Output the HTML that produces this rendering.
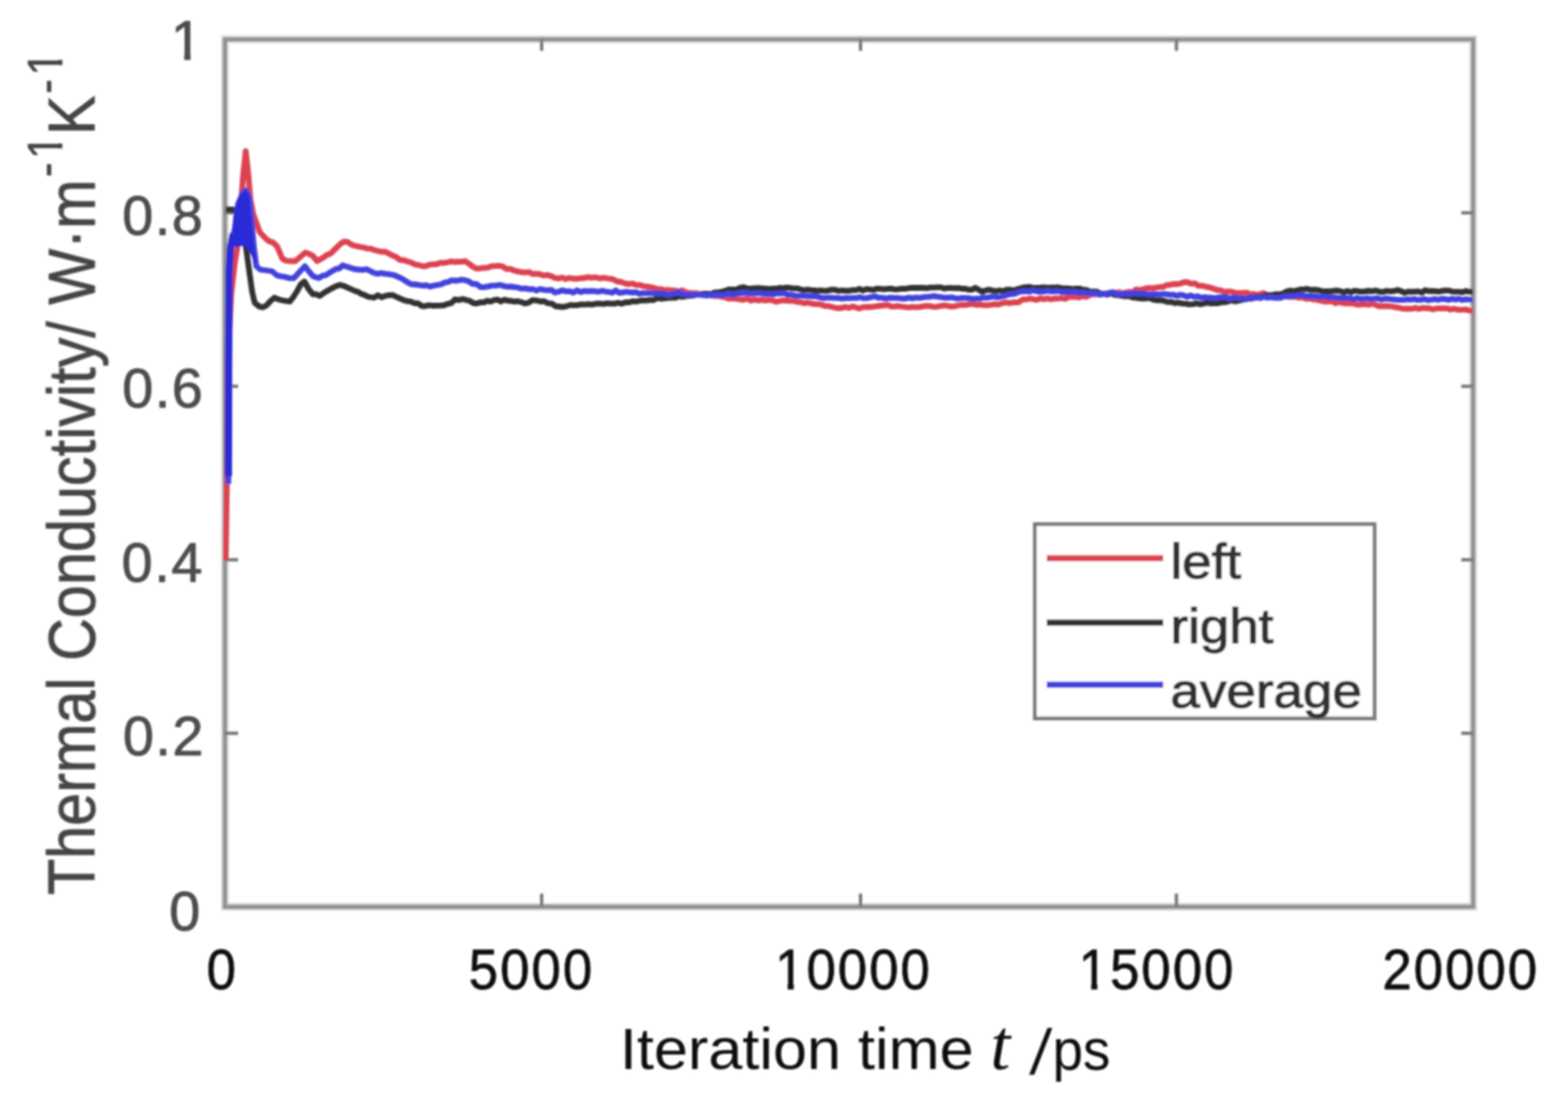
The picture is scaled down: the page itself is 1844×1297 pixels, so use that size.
<!DOCTYPE html>
<html><head><meta charset="utf-8"><title>Thermal Conductivity vs Iteration time</title>
<style>html,body{margin:0;padding:0;background:#fff;overflow:hidden}svg{display:block}</style></head>
<body><svg width="1844" height="1297" viewBox="0 0 1844 1297">
<defs><filter id="b" x="-2%" y="-2%" width="104%" height="104%"><feGaussianBlur stdDeviation="1.0"/></filter>
<clipPath id="c1"><rect x="-1000" y="-1000" width="3000" height="990.5"/><rect x="-1000" y="-9.6" width="1004.00" height="60"/><rect x="23.80" y="-9.6" width="11.4" height="60"/><rect x="54.00" y="-9.6" width="3000" height="60"/></clipPath>
<clipPath id="c2"><rect x="-1000" y="-1000" width="3000" height="990.5"/><rect x="-1000" y="-9.6" width="1045.00" height="60"/><rect x="64.80" y="-9.6" width="11.4" height="60"/><rect x="95.00" y="-9.6" width="3000" height="60"/></clipPath>
</defs>
<rect x="0" y="0" width="1844" height="1297" fill="#fff"/>
<g filter="url(#b)">
<rect x="264.5" y="46.3" width="1468.0" height="1020.0" fill="none" stroke="#e0e0e0" stroke-width="9.5"/>
<rect x="264.5" y="46.3" width="1468.0" height="1020.0" fill="none" stroke="#939393" stroke-width="5.3"/>
<path d="M264.5,862.3h15.5M1732.5,862.3h-14M264.5,658.3h15.5M1732.5,658.3h-14M264.5,454.3h15.5M1732.5,454.3h-14M264.5,250.3h15.5M1732.5,250.3h-14M637,1066.3v-15.5M637,46.3v13.5M1012,1066.3v-15.5M1012,46.3v13.5M1383.5,1066.3v-15.5M1383.5,46.3v13.5" stroke="#7a7a7a" stroke-width="4" fill="none"/>
<polyline points="265.5,659 266.3,600 266.8,569 268,420 272,345 276,310 280,285 283,245 286,205 289,177.7 292,205 294.5,235 297.8,252 305.5,273 313,281 317,283.9 321,285 326,290 332,304 336,306.5 340,307 347.5,307 353.2,302 359,297 363.5,298.5 368,301 373,307 380,303 384.5,299.7 389,298 393,294 397,290 401,286.3 405,284 409,284.7 413,287.5 417,289 422.5,290.1 428,291 432,292.4 436,292.4 440,294 444.2,295 448.5,296 452.8,295.9 457,298 461.5,300.4 466,302.2 470.5,305.7 475,306 479.4,307.5 483.8,308.7 488.2,311.1 492.6,311.7 497,313 501.2,312.8 505.4,311.1 509.6,310.8 513.8,310.5 518,309 522.1,309.2 526.3,308.5 530.4,307.4 534.6,308.2 538.7,307.6 542.9,307.8 547,307 551.7,310.2 556.3,313.8 561,316 565.3,315.4 569.7,315 574,314.7 578.3,312.9 582.7,312.8 587,312.5 591.3,313.4 595.7,316.4 600,316.2 604.3,318 608.7,319.2 613,320 617.5,320.3 622,319.9 626.5,322.2 631,322 635.2,322.5 639.5,324 643.8,323.3 648,324.7 652.2,326.6 656.5,327.5 660.8,326.3 665,328 669.4,326.8 673.8,327.5 678.1,327.8 682.5,327.1 686.9,327 691.2,325.8 695.6,326.7 700,326 705,327.3 710,326.7 715,327.5 720.5,328.2 726,331 730.7,331.5 735.3,333.5 740,334 744,333.4 748,335.1 752,335.1 756,336.3 760,337 764.3,337.5 768.6,338.3 772.9,340 777.1,339.9 781.4,341.1 785.7,340.8 790,341.5 794.2,341.7 798.3,342.9 802.5,341.3 806.7,343.8 810.8,344.5 815,345 819.2,344.6 823.3,346.3 827.5,346.1 831.7,345.3 835.8,347.4 840,348 844.3,347.9 848.6,348.8 852.9,349.6 857.1,351.2 861.4,350.9 865.7,351.4 870,352 874.3,352.5 878.6,351.1 882.9,353.5 887.1,352 891.4,353.3 895.7,352.4 900,353.4 904.2,352.7 908.3,353.2 912.5,354.8 916.7,354 920.8,353.1 925,353.5 929.1,353.8 933.2,353.7 937.4,355.1 941.5,355.2 945.6,356.6 949.8,355.7 953.9,356.9 958,357.7 962,357.6 966,358.3 970,359.8 974,359.9 978,360.8 982,361.8 986,362.3 990,362 994.1,360.9 998.2,362.1 1002.4,360.4 1006.5,361.5 1010.6,362.7 1014.8,361.1 1018.9,360.9 1023,361 1027.2,360.6 1031.5,360 1035.8,359.5 1040,359 1044,358.7 1048,360.3 1052,360.4 1056,359.9 1060,360.5 1064,361 1068,361.5 1072,361 1076.2,361.1 1080.5,361.2 1084.7,360.4 1088.9,359.6 1093.2,359.9 1097.4,360.8 1101.6,360.6 1105.8,359.9 1110.1,359.2 1114.3,359.7 1118.5,360.5 1122.8,360.1 1127,359 1131.3,358.4 1135.6,358.7 1139.9,357.6 1144.2,357.7 1148.5,358.5 1152.8,358.2 1157.1,358.8 1161.4,358.8 1165.7,358.4 1170,357.7 1174.4,358.2 1178.8,356.4 1183.2,355.6 1187.6,356.3 1192,355.5 1197.5,355.6 1203,352 1207.1,352.1 1211.2,351 1215.3,351.8 1219.4,352.6 1223.6,350.7 1227.7,351.9 1231.8,350.8 1235.9,352 1240,351 1244.2,351.2 1248.3,350.5 1252.5,351.4 1256.7,349.4 1260.8,348.9 1265,349 1269.2,349.8 1273.3,347.4 1277.5,349 1281.7,347 1285.8,345.8 1290,346 1294.3,345.9 1298.6,345.8 1302.9,345.7 1307.1,345.3 1311.4,346 1315.7,343.5 1320,345 1324,343.8 1328,343.2 1332,343.9 1336,340.4 1340,341 1344,340.2 1348,339 1352,338.7 1356,339 1360,338 1364,337.5 1368,337.4 1372,335.2 1376,335 1380,334 1384,334.2 1388,333.5 1392,332 1396,331.7 1400.5,333.6 1405,333.2 1409.5,336.2 1414,336 1418.4,337.2 1422.8,338.1 1427.2,339.5 1431.6,341 1436,341.5 1440.4,343.4 1444.8,342.7 1449.2,343.2 1453.6,344.5 1458,344.7 1462,344.4 1466,344.1 1470,346.1 1474,345.6 1478,346.9 1482,345.7 1486,344.7 1490,347 1494.3,347.5 1498.6,347.7 1502.9,349 1507.1,348.5 1511.4,348.6 1515.7,349.1 1520,349 1524,349.2 1528,350.1 1532,349.6 1536,351.4 1540,350.9 1544,352 1548.5,352.3 1553,353.7 1557.5,354.5 1562,354.5 1566.3,354.1 1570.6,356.5 1574.9,355 1579.2,356.4 1583.5,356.8 1587.8,356.6 1592.1,356.9 1596.4,358.3 1600.7,358 1605,357.7 1609.2,358.4 1613.3,357.2 1617.5,358.3 1621.7,360 1625.8,359.8 1630,360 1634.5,360 1639,360.8 1643.5,361.7 1648,362.5 1652.1,363 1656.2,362.8 1660.4,363.2 1664.5,361.9 1668.6,363.2 1672.8,362.1 1676.9,362.3 1681,362.5 1685.1,363.8 1689.3,362.7 1693.4,362.6 1697.6,362.6 1701.7,362.6 1705.9,364 1710,363 1714.7,364.3 1719.3,364.2 1724,364 1728,365.1 1732,366" fill="none" stroke="#dc4250" stroke-width="6.8" stroke-linejoin="round"/>
<polyline points="265.5,246 278,247 284,262 288,281 293,318 296.5,343 299.5,356 305,360.5 309.2,361.4 313.5,359 318.1,354 322.8,350 326.9,351.8 331,353 336,353.9 341,354.5 345,349.3 349,343 354,334 358,331 363,340 368,346 372,346 376,348 380.5,344.7 385,342 390,339.1 395,336.6 400,335 404.2,336.2 408.5,338.1 412.8,340 417,342 421,343.1 425,345.8 429,346.9 433,349 440,350 444.4,347.2 448.8,349.6 453.2,347.9 457.6,347.1 462,347 466.3,349.2 470.7,351.2 475,353 479.2,354.2 483.3,354.7 487.5,356.6 491.7,356.6 495.8,359.8 500,360 504.4,358.9 508.8,359.5 513.2,359.4 517.6,359.4 522,359 526.4,357.3 530.8,356.4 535.2,352 539.6,352.9 544,351.6 548.2,352.7 552.5,353.8 556.8,356.5 561,356.8 565,355.5 569,355.6 573,353.6 577,354.7 581,352.8 585,352.3 589,354.5 593,352.4 597,353.5 601,353.8 605,354.6 609,354.2 613,355.2 617,356.8 621.7,355.8 626.3,352.9 631,353.3 635.4,354.5 639.9,354.2 644.3,356.6 648.7,356.8 653.1,360 657.6,360.5 662,361 666.3,360.1 670.6,358.6 674.9,358.9 679.1,358.9 683.4,357.8 687.7,358.2 692,357.6 696.3,358.1 700.7,357.2 705,356.8 709.3,357.5 713.7,356.6 718,356.8 722.4,357.1 726.8,356 731.2,357.1 735.6,355.5 740,355.5 744,354.2 748,354.6 752,353.7 756,353.1 760,353.4 764.3,352.7 768.6,352.9 772.9,350.3 777.1,351.3 781.4,350.8 785.7,350.3 790,350 794.2,350.1 798.3,348.1 802.5,349.1 806.7,348.1 810.8,347.9 815,347.5 819.2,346.7 823.3,346 827.5,345.3 831.7,345.4 835.8,346 840,344 844.3,343.9 848.6,343 852.9,342 857.1,340.4 861.4,340.4 865.7,340.7 870,338.5 874.4,337.6 878.8,339.1 883.2,339.3 887.6,338.8 892,338.7 896.1,339.1 900.2,339.5 904.4,340 908.5,339.3 912.6,339.5 916.8,338.5 920.9,338.8 925,338.2 929.1,338.7 933.2,339.2 937.4,339.1 941.5,340.3 945.6,341.2 949.8,340.5 953.9,341.2 958,341.5 962,341.9 966,341.5 970,342.1 974,341.6 978,340.6 982,340.7 986,342 990,341.5 994.1,341.8 998.2,342 1002.4,341.2 1006.5,341.1 1010.6,339.7 1014.8,341.6 1018.9,339.9 1023,340.4 1027.1,341 1031.2,339.4 1035.3,339.6 1039.4,340.1 1043.6,339.6 1047.7,339.3 1051.8,340.3 1055.9,340.1 1060,339.5 1064.2,339.6 1068.5,338.9 1072.8,338.4 1077,338.5 1081.2,338.3 1085.5,338.5 1089.8,338.9 1094,338.2 1098.1,338.1 1102.2,337.8 1106.4,337.9 1110.5,339.3 1114.6,338.6 1118.8,338.7 1122.9,338.8 1127,338.7 1131,339.5 1135,339.5 1139,340.6 1143,340.7 1147,338.4 1151,340.7 1155,343.2 1159,341.5 1163.1,340.6 1167.2,341.6 1171.4,342.3 1175.5,341.5 1179.6,342.4 1183.8,340.6 1187.9,340.6 1192,341.5 1197.5,339.7 1203,338.2 1207.1,337.7 1211.2,337.4 1215.3,338.6 1219.4,338.4 1223.6,338.2 1227.7,337.9 1231.8,338.4 1235.9,338.1 1240,338.2 1244.2,337.9 1248.3,339 1252.5,339.1 1256.7,339.1 1260.8,339.8 1265,339.5 1269.2,339.3 1273.3,340.6 1277.5,340.9 1281.7,342.8 1285.8,342.8 1290,343 1294.3,345.2 1298.6,345.5 1302.9,344.9 1307.1,345.1 1311.4,346.9 1315.7,347.1 1320,348 1324,348.4 1328,348.3 1332,349.9 1336,350.1 1340,350.8 1344,351.2 1348,350.9 1352,350.4 1356,352.3 1360,353 1364.3,353 1368.6,353.6 1372.9,355.1 1377.2,354.8 1381.5,356.4 1385.8,355.9 1390.1,356.8 1394.4,357.1 1398.7,357.8 1403,357.7 1407.1,356.5 1411.2,357.9 1415.4,357 1419.5,355.9 1423.6,356.8 1427.8,356.3 1431.9,356.7 1436,355.5 1440,355.4 1444,354.6 1448,352.7 1452,354.4 1456,353.7 1460,352.7 1464,351.9 1468,351 1472.1,351.2 1476.2,349.1 1480.4,349.5 1484.5,348.4 1488.6,347 1492.8,347.4 1496.9,346.7 1501,345.8 1505,346.3 1509,345.1 1513,342.7 1517,341.7 1521,342.4 1525,341.6 1529,340.4 1533,340.4 1537.5,339.7 1542,341 1546.5,340.6 1551,341.3 1555.5,342.8 1560,342.5 1564.1,342.7 1568.2,342 1572.3,341.7 1576.4,342.4 1580.5,343.7 1584.5,342.1 1588.6,343.7 1592.7,341.9 1596.8,342.4 1600.9,343 1605,342.5 1609.3,342 1613.6,342.5 1617.9,341.6 1622.2,343 1626.5,343.3 1630.8,342 1635.1,342.6 1639.4,342.2 1643.7,341 1648,342.5 1652,344.4 1656,342.9 1660,343.1 1664,342.8 1668,342.6 1672,344.2 1676,341.2 1680,342.3 1684,342.2 1688,342.4 1692,343 1696,342 1700,341.6 1704,341.7 1708,342.8 1712,343.2 1716,343.1 1720,343.6 1724,342.1 1728,343.2 1732,342.5" fill="none" stroke="#333" stroke-width="6.8" stroke-linejoin="round"/>
<polyline points="268.5,569 268.8,420 269.2,320 270.5,290 276,270 280,240 285,228 289,224 293,232 296,262 298.5,290 301.5,313 306,317 313.5,318 320,319 326,324 330.5,324.9 335,325.6 340.4,327.2 345.7,327 352,320 358.6,313 364,320 368.4,325 375,327 379,324.3 383,323.7 387,321 391,318.6 395,316.3 399,315.6 403,312 407.7,313.6 412.3,315 417,316.5 421.7,317 426.3,317.3 431,316.5 435.5,318.7 440,321 444.2,321.8 448.4,321.1 452.6,321.9 456.8,322.3 461,323 465.4,324.3 469.8,326.3 474.2,328.5 478.6,331.6 483,334 487.6,334.5 492.2,335 496.8,335.8 501.4,335.5 506,337 510.1,335.9 514.3,335.2 518.4,334.5 522.6,332.4 526.7,331.7 530.9,329.6 535,330 539,329.8 543,328.8 547,329.5 551,330.7 555.7,333.8 560.3,333.8 565,337.7 569.5,337.7 574,336.8 578.5,335.9 583,335.9 587.5,335 591.8,336.1 596.2,337.2 600.5,337 604.8,337.5 609.2,338.2 613.5,339.4 617.9,339.1 622.2,340.1 626.5,339.9 630.9,341.6 635.2,339.9 639.6,340.8 644,341.3 648.3,340.8 652.6,344 657,343 661.3,341.3 665.6,342.7 669.9,342.5 674.2,344 678.5,341.4 682.8,343.5 687.1,342.1 691.4,342.5 695.7,342.1 700,342.5 704,343.1 708,341.9 712,342.8 716,343.2 720,344.3 724,341.5 728,344.3 732,344 736,343.2 740,343.6 744,344 748,343.7 752,345.4 756,344.6 760,344.7 764.3,344.7 768.6,344.9 772.9,345 777.1,345.2 781.4,344.9 785.7,347.1 790,345.8 794.2,344.6 798.3,343.5 802.5,346.1 806.7,346.2 810.8,346.6 815,346.5 819.2,346.4 823.3,346.6 827.5,347 831.7,347.5 835.8,346.6 840,347 844.3,346.4 848.6,347.7 852.9,346.4 857.1,345 861.4,347 865.7,345.6 870,344.7 874.3,344.5 878.6,344.2 882.9,345.5 887.1,344.9 891.4,344.9 895.7,344.9 900,346 904.7,345.3 909.3,346.1 914,345 918.1,345.1 922.2,344.7 926.4,346.6 930.5,346.5 934.6,347.5 938.8,348.1 942.9,347.5 947,348 951.3,348.2 955.6,348.6 959.9,348.2 964.2,349.7 968.5,350.6 972.8,350 977.1,350.1 981.4,350.4 985.7,350.3 990,351.2 994.3,350.5 998.6,350.7 1002.9,350.3 1007.2,350.4 1011.5,349.5 1015.8,350.7 1020.1,350.4 1024.4,349.4 1028.7,348.5 1033,350 1037.5,350.2 1042,351.1 1046.5,350 1051,350.3 1055.5,350.4 1060,351 1064.2,351.2 1068.5,349.9 1072.8,350.9 1077,349.8 1081.2,350.4 1085.5,349.5 1089.8,349.1 1094,349 1098.2,348.1 1102.3,348.9 1106.5,349.3 1110.6,350.1 1114.8,350 1118.9,349.5 1123.1,350.5 1127.2,351 1131.4,350.4 1135.5,350.4 1139.7,350.6 1143.8,351.6 1148,351.2 1152.1,351.2 1156.2,349.7 1160.4,350.3 1164.5,349.3 1168.6,348.7 1172.8,349.7 1176.9,349 1181,348 1185.4,346.4 1189.8,345.9 1194.2,345.1 1198.6,343.2 1203,342.5 1207.1,342.4 1211.2,343 1215.3,341.2 1219.4,342.7 1223.6,343 1227.7,342.9 1231.8,341.6 1235.9,342.7 1240,342.5 1244.2,342.1 1248.3,343.3 1252.5,343.5 1256.7,343.5 1260.8,343 1265,343.3 1269.2,344.6 1273.3,343.5 1277.5,344.7 1281.7,344.9 1285.8,344.6 1290,345 1294,346.7 1298,345.1 1302,346.7 1306,343.8 1310,343.7 1314,346 1318,345.8 1322,345.2 1326,345.4 1330,345.5 1334.3,344.2 1338.6,345.1 1342.9,344.9 1347.1,345.5 1351.4,346.3 1355.7,345.8 1360,345.8 1364,346.3 1368,345.7 1372,346.1 1376,346.7 1380,346.6 1384,347.9 1388,346.6 1392,347.4 1396.1,349 1400.2,347.4 1404.4,349.1 1408.5,348.2 1412.6,350.2 1416.8,349.4 1420.9,350 1425,350 1429.1,350.6 1433.2,349.7 1437.4,349.5 1441.5,348.9 1445.6,351.3 1449.8,350 1453.9,350.2 1458,350.7 1462,350.6 1466,351.9 1470,349.2 1474,350.5 1478,350 1482,350.5 1486,348.8 1490,350 1494.1,349.5 1498.2,350.1 1502.4,350.3 1506.5,350.1 1510.6,348.2 1514.8,348.5 1518.9,348.2 1523,348 1527.2,347 1531.5,347 1535.8,348.5 1540,348 1544,348.4 1548,348.4 1552,349.6 1556,348.3 1560,349.6 1564,349.5 1568,349.7 1572,350 1576,350.5 1580,350.3 1584,350.5 1588,350.6 1592,351.9 1596,350.4 1600,351.5 1604,351.3 1608,350.7 1612,351.6 1616,351.2 1620.3,350.7 1624.6,352.2 1628.9,351 1633.2,351.3 1637.5,352 1641.8,352.4 1646.1,352.6 1650.4,352.7 1654.7,352 1659,352.3 1663.1,351.6 1667.1,352.7 1671.2,352.5 1675.2,351.6 1679.3,353 1683.3,352.4 1687.4,351.6 1691.4,352.6 1695.5,351.4 1699.6,351.7 1703.6,352.6 1707.7,351.2 1711.7,352.3 1715.8,351.4 1719.8,352.8 1723.9,351.8 1727.9,352.4 1732,352.3" fill="none" stroke="#4343dc" stroke-width="6.8" stroke-linejoin="round"/>
<polygon points="273.5,288 274.5,255 279,236 284,228 289,223.5 293,230 296,260 298.5,287 301.5,312 297,303 291,292 284,289 278,291" fill="#2a2ad6"/>
<polyline points="268.6,560 268.9,420 269.4,320 271,292 274,275" fill="none" stroke="#2a2ad6" stroke-width="8.5"/>
<rect x="1217" y="616.3" width="399.5" height="228.5" fill="#fff" stroke="#777b7b" stroke-width="4.4"/>
<line x1="1231" y1="656.3" x2="1368" y2="656.3" stroke="#dc4250" stroke-width="7.2"/>
<line x1="1231" y1="732.2" x2="1368" y2="732.2" stroke="#333" stroke-width="7.2"/>
<line x1="1231" y1="805.2" x2="1368" y2="805.2" stroke="#4343dc" stroke-width="7.2"/>
<text clip-path="url(#c1)" transform="translate(201.06,69.60) scale(0.6560,0.6560)" style="font-family:'Liberation Sans',Arial,sans-serif;font-size:100px;letter-spacing:2.74px" fill="#4e4e4e" stroke="#4e4e4e" stroke-width="1.5">1</text>
<text transform="translate(143.64,275.60) scale(0.6560,0.6560)" style="font-family:'Liberation Sans',Arial,sans-serif;font-size:100px;letter-spacing:2.74px" fill="#4e4e4e" stroke="#4e4e4e" stroke-width="1.5">0.8</text>
<text transform="translate(143.70,479.00) scale(0.6560,0.6560)" style="font-family:'Liberation Sans',Arial,sans-serif;font-size:100px;letter-spacing:2.74px" fill="#4e4e4e" stroke="#4e4e4e" stroke-width="1.5">0.6</text>
<text transform="translate(143.12,684.20) scale(0.6560,0.6560)" style="font-family:'Liberation Sans',Arial,sans-serif;font-size:100px;letter-spacing:2.74px" fill="#4e4e4e" stroke="#4e4e4e" stroke-width="1.5">0.4</text>
<text transform="translate(144.50,887.80) scale(0.6560,0.6560)" style="font-family:'Liberation Sans',Arial,sans-serif;font-size:100px;letter-spacing:2.74px" fill="#4e4e4e" stroke="#4e4e4e" stroke-width="1.5">0.2</text>
<text transform="translate(198.88,1094.20) scale(0.6560,0.6560)" style="font-family:'Liberation Sans',Arial,sans-serif;font-size:100px;letter-spacing:2.74px" fill="#4e4e4e" stroke="#4e4e4e" stroke-width="1.5">0</text>
<text transform="translate(243.01,1163.30) scale(0.6200,0.6740)" style="font-family:'Liberation Sans',Arial,sans-serif;font-size:100px;letter-spacing:3.87px" fill="#0a0a0a" stroke="#0a0a0a" stroke-width="1.2">0</text>
<text transform="translate(551.33,1163.30) scale(0.6200,0.6740)" style="font-family:'Liberation Sans',Arial,sans-serif;font-size:100px;letter-spacing:3.87px" fill="#0a0a0a" stroke="#0a0a0a" stroke-width="1.2">5000</text>
<text clip-path="url(#c1)" transform="translate(911.59,1163.30) scale(0.6200,0.6740)" style="font-family:'Liberation Sans',Arial,sans-serif;font-size:100px;letter-spacing:3.87px" fill="#0a0a0a" stroke="#0a0a0a" stroke-width="1.2">10000</text>
<text clip-path="url(#c1)" transform="translate(1268.59,1163.30) scale(0.6200,0.6740)" style="font-family:'Liberation Sans',Arial,sans-serif;font-size:100px;letter-spacing:3.87px" fill="#0a0a0a" stroke="#0a0a0a" stroke-width="1.2">15000</text>
<text transform="translate(1625.65,1163.30) scale(0.6200,0.6740)" style="font-family:'Liberation Sans',Arial,sans-serif;font-size:100px;letter-spacing:3.87px" fill="#0a0a0a" stroke="#0a0a0a" stroke-width="1.2">20000</text>
<text transform="translate(728.88,1257.00) scale(0.7200,0.6900)" style="font-family:'Liberation Sans',Arial,sans-serif;font-size:100px" fill="#0a0a0a">Iteration time</text>
<text transform="translate(1164.80,1257.00) scale(0.8400,0.8400)" style="font-family:'Liberation Serif','Times New Roman',serif;font-style:italic;font-size:100px" fill="#0a0a0a">t</text>
<text transform="translate(1210.50,1263.30) scale(0.7400,0.7500) skewX(-7)" style="font-family:'Liberation Sans',Arial,sans-serif;font-size:100px" fill="#0a0a0a">/</text>
<text transform="translate(1237.66,1257.50) scale(0.6464,0.6800)" style="font-family:'Liberation Sans',Arial,sans-serif;font-size:100px" fill="#0a0a0a">ps</text>
<text transform="translate(1376.50,679.50) scale(0.6230,0.5660)" style="font-family:'Liberation Sans',Arial,sans-serif;font-size:100px" fill="#333" stroke="#333" stroke-width="2.4">left</text>
<text transform="translate(1376.50,755.60) scale(0.6230,0.5660)" style="font-family:'Liberation Sans',Arial,sans-serif;font-size:100px" fill="#333" stroke="#333" stroke-width="2.4">right</text>
<text transform="translate(1376.50,832.00) scale(0.6230,0.5660)" style="font-family:'Liberation Sans',Arial,sans-serif;font-size:100px" fill="#333" stroke="#333" stroke-width="2.4">average</text>
<text transform="translate(110.80,1052.50) rotate(-90) scale(0.6980,0.7780)" style="font-family:'Liberation Sans',Arial,sans-serif;font-size:100px" fill="#454545" stroke="#454545" stroke-width="1.1">Thermal Conductivity/ W·m</text>
<text clip-path="url(#c2)" transform="translate(72.50,208.30) rotate(-90) scale(0.5200,0.5760)" style="font-family:'Liberation Sans',Arial,sans-serif;font-size:100px;letter-spacing:7.7px" fill="#454545" stroke="#454545" stroke-width="1.1">-1</text>
<text transform="translate(110.80,158.70) rotate(-90) scale(0.6980,0.7780)" style="font-family:'Liberation Sans',Arial,sans-serif;font-size:100px" fill="#454545" stroke="#454545" stroke-width="1.1">K</text>
<text clip-path="url(#c2)" transform="translate(72.50,110.20) rotate(-90) scale(0.5200,0.5760)" style="font-family:'Liberation Sans',Arial,sans-serif;font-size:100px;letter-spacing:7.7px" fill="#454545" stroke="#454545" stroke-width="1.1">-1</text>
</g>
</svg></body></html>
